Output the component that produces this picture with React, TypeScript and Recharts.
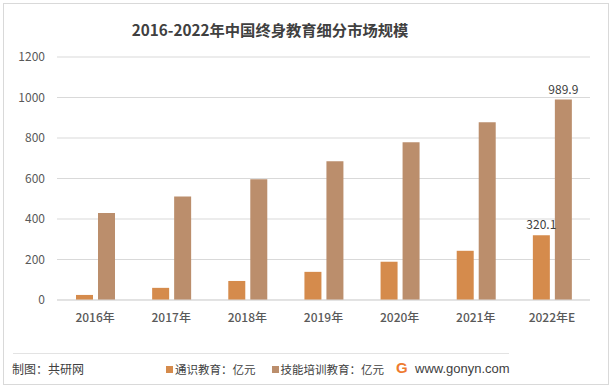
import { BarChart, Bar, XAxis, YAxis, CartesianGrid, LabelList } from 'recharts'

const years = ['2016年', '2017年', '2018年', '2019年', '2020年', '2021年', '2022年E']
const general = [25, 60, 94, 139, 189, 243, 320.1]
const skills = [430, 511, 596, 685, 779, 878, 989.9]
const yTicks = [0, 200, 400, 600, 800, 1000, 1200]

const generalName = '通识教育：亿元'
const skillsName = '技能培训教育：亿元'

const data = years.map((year, i) => ({ year, general: general[i], skills: skills[i] }))

const FONT = '"Noto Sans CJK SC", "Noto Sans", sans-serif'
const GENERAL_COLOR = '#D58B4C'
const SKILLS_COLOR = '#BB8E6C'

// only the last category carries a value label
const lastLabel = (props: any) => {
  const { x, y, width, value, index } = props
  if (index !== years.length - 1) return null
  return (
    <text x={x + width / 2} y={y - 6} textAnchor="middle" fill="#404040" fontSize={12} fontFamily={FONT}>
      {value}
    </text>
  )
}

export default function App() {
  return (
    <div style={{ position: 'absolute', left: 0, top: 0, width: 614, height: 391, background: '#fff', fontFamily: FONT }}>
      <div style={{ position: 'absolute', left: 3, top: 3, width: 604, height: 380, border: '1px solid #D9D9D9' }} />
      <div style={{ position: 'absolute', left: 0, width: 540, top: 18, textAlign: 'center', fontSize: 15.3, fontWeight: 'bold', color: '#404040', lineHeight: '22px' }}>
        2016-2022年中国终身教育细分市场规模
      </div>
      <BarChart width={614} height={391} data={data} margin={{ top: 57, right: 24, bottom: 61, left: 0 }} barSize={17} barGap={5}>
        <CartesianGrid vertical={false} stroke="#D9D9D9" />
        <XAxis
          dataKey="year"
          axisLine={{ stroke: '#D9D9D9' }}
          tickLine={false}
          tickMargin={7}
          tick={{ fontSize: 12, fill: '#595959', fontFamily: FONT, fontWeight: 500 }}
          interval={0}
        />
        <YAxis
          width={57}
          domain={[0, 1200]}
          ticks={yTicks}
          axisLine={false}
          tickLine={false}
          tickMargin={6}
          tick={{ fontSize: 12, fill: '#595959', fontFamily: FONT }}
        />
        <Bar dataKey="general" name={generalName} fill={GENERAL_COLOR} isAnimationActive={false}>
          <LabelList dataKey="general" content={lastLabel} />
        </Bar>
        <Bar dataKey="skills" name={skillsName} fill={SKILLS_COLOR} isAnimationActive={false}>
          <LabelList dataKey="skills" content={lastLabel} />
        </Bar>
      </BarChart>
      <div style={{ position: 'absolute', left: 13, top: 353, width: 496, height: 1, background: '#E3E3E3' }} />
      <div style={{ position: 'absolute', left: 12, top: 360, fontSize: 12, color: '#404040', lineHeight: '18px' }}>制图：共研网</div>
      <div style={{ position: 'absolute', left: 166, top: 360, display: 'flex', alignItems: 'center', fontSize: 11.5, color: '#404040', lineHeight: '18px' }}>
        <span style={{ width: 7, height: 7, background: GENERAL_COLOR, marginRight: 2 }} />
        <span>{generalName}</span>
        <span style={{ width: 7, height: 7, background: SKILLS_COLOR, marginLeft: 16, marginRight: 2 }} />
        <span>{skillsName}</span>
      </div>
      <div style={{ position: 'absolute', left: 396, top: 359, fontSize: 15, fontWeight: 'bold', color: '#EE7B2F', fontFamily: '"Liberation Sans", sans-serif', lineHeight: '18px' }}>G</div>
      <div style={{ position: 'absolute', left: 415, top: 360, fontSize: 13, color: '#404040', fontFamily: '"Liberation Sans", sans-serif', lineHeight: '18px' }}>www.gonyn.com</div>
    </div>
  )
}
